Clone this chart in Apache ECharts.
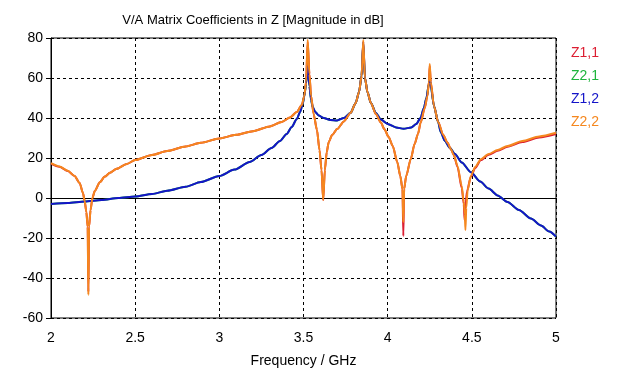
<!DOCTYPE html>
<html><head><meta charset="utf-8">
<script src="https://cdn.jsdelivr.net/npm/echarts@6/dist/echarts.min.js"></script>
<style>html,body{margin:0;padding:0;background:#fff}#c{width:630px;height:373px}</style>
</head><body><div id="c"></div>
<script>
const seriesNames = ['Z1,1', 'Z2,1', 'Z1,2', 'Z2,2'];
const xTicks = [2, 2.5, 3, 3.5, 4, 4.5, 5];
const yTicks = [-60, -40, -20, 0, 20, 40, 60, 80];

const z22 = [[2.00,17.4],[2.05,15.8],[2.10,13.6],[2.14,11],[2.17,7.5],[2.19,2.5],[2.20,-1.5],[2.21,-7],[2.218,-14.4],[2.222,-48.5],[2.226,-14.4],[2.235,-6],[2.246,0],[2.26,3.5],[2.29,7.9],[2.32,10.7],[2.35,12.6],[2.39,14.6],[2.45,17],[2.5,19],[2.6,21.5],[2.69,23.5],[2.8,25.8],[2.89,27.6],[3.0,29.8],[3.1,31.6],[3.2,33.4],[3.3,35.8],[3.37,38],[3.42,40.3],[3.46,43],[3.49,46.5],[3.505,51],[3.515,58],[3.525,79],[3.535,62],[3.545,51],[3.56,42],[3.58,34],[3.595,24],[3.607,14],[3.617,-1],[3.627,14],[3.638,23],[3.65,28],[3.67,31.5],[3.70,34.5],[3.74,38.3],[3.78,42.6],[3.81,47.5],[3.83,53],[3.845,61],[3.855,79],[3.865,60],[3.88,53],[3.90,47.6],[3.93,42],[3.96,37.7],[3.98,34.5],[4.006,30.5],[4.03,26],[4.057,18],[4.075,11],[4.088,4.5],[4.093,-12],[4.098,4.5],[4.11,11],[4.137,19.4],[4.16,27],[4.18,32],[4.196,37.7],[4.22,45],[4.236,51],[4.245,58],[4.25,67],[4.256,58],[4.275,46],[4.30,38],[4.33,31.5],[4.355,27.7],[4.375,24.5],[4.393,21.5],[4.415,16],[4.44,6],[4.452,-2],[4.458,-8],[4.462,-16],[4.467,-5],[4.475,4],[4.494,11],[4.52,15.5],[4.554,19.4],[4.6,22],[4.653,24],[4.712,26],[4.8,28.5],[4.9,30.8],[5.0,32.6]];

const z11 = [[2.00,17.2],[2.05,15.6],[2.10,13.5],[2.14,11],[2.17,7.5],[2.19,2.5],[2.20,-1.5],[2.21,-7],[2.218,-14.4],[2.222,-47],[2.226,-14.4],[2.235,-6],[2.246,0],[2.26,3.5],[2.29,7.9],[2.32,10.7],[2.35,12.6],[2.39,14.6],[2.45,17],[2.5,19],[2.6,21.5],[2.69,23.5],[2.8,25.8],[2.89,27.6],[3.0,29.8],[3.1,31.6],[3.2,33.4],[3.3,35.8],[3.37,38],[3.42,40.3],[3.46,43],[3.49,46.5],[3.505,51],[3.515,58],[3.525,78],[3.535,62],[3.545,51],[3.56,42],[3.58,34],[3.595,24],[3.607,14],[3.617,-1],[3.627,14],[3.638,23],[3.65,28],[3.67,31.5],[3.70,34.5],[3.74,38.3],[3.78,42.6],[3.81,47.5],[3.83,53],[3.845,61],[3.855,78],[3.865,60],[3.88,53],[3.90,47.6],[3.93,42],[3.96,37.7],[3.98,34.5],[4.006,30.5],[4.03,26],[4.057,18],[4.075,11],[4.088,4.5],[4.093,-19],[4.098,4.5],[4.11,11],[4.137,19.4],[4.16,27],[4.18,32],[4.196,37.7],[4.22,45],[4.236,51],[4.245,58],[4.25,66],[4.256,58],[4.275,46],[4.30,38],[4.33,31.5],[4.355,27.7],[4.375,24.5],[4.393,21.5],[4.415,15.5],[4.44,5],[4.452,-3],[4.457,-11],[4.462,-5],[4.47,3],[4.494,10.5],[4.52,15],[4.554,19],[4.6,21.6],[4.653,23.6],[4.712,25.6],[4.8,28],[4.9,30.3],[5.0,32]];

const z12 = [[2.0,-3],[2.1,-2.5],[2.2,-1.8],[2.3,-1],[2.4,0],[2.5,0.8],[2.6,2],[2.69,3.6],[2.8,5.6],[2.89,8],[3.0,11],[3.09,14.2],[3.18,18],[3.25,21.5],[3.31,25],[3.36,28.5],[3.40,32],[3.43,35.5],[3.46,39.5],[3.48,43],[3.495,47],[3.505,51],[3.515,57],[3.525,66],[3.535,56],[3.545,49],[3.555,45.5],[3.57,43],[3.59,41.3],[3.62,40],[3.66,39],[3.70,38.8],[3.74,40],[3.78,42.6],[3.81,47.5],[3.83,53],[3.845,61],[3.855,78],[3.865,60],[3.88,53],[3.90,47.6],[3.93,42.5],[3.96,39.2],[4.0,37],[4.05,35.3],[4.095,34.6],[4.14,35.3],[4.17,37],[4.195,40],[4.215,45],[4.23,50],[4.245,57],[4.25,60],[4.256,56],[4.275,46],[4.30,38],[4.315,33],[4.34,28.5],[4.37,25],[4.40,22],[4.44,17.8],[4.494,12.9],[4.55,8.2],[4.6,4.7],[4.653,1.3],[4.712,-2],[4.78,-6],[4.851,-10.3],[4.911,-13.8],[4.96,-16.8],[5.0,-19.3]];

const z21 = [[2.0,-3],[2.1,-2.5],[2.2,-1.8],[2.3,-1],[2.4,0],[2.5,0.8],[2.6,2],[2.69,3.6],[2.8,5.6],[2.89,8],[3.0,11],[3.09,14.2],[3.18,18],[3.25,21.5],[3.31,25],[3.36,28.5],[3.40,32],[3.43,35.5],[3.46,39.5],[3.48,43],[3.495,47],[3.505,51],[3.515,57],[3.525,65],[3.535,56],[3.545,49],[3.555,45.5],[3.57,43],[3.59,41.3],[3.62,40],[3.66,39],[3.70,38.8],[3.74,40],[3.78,42.6],[3.81,47.5],[3.83,53],[3.845,61],[3.855,77],[3.865,60],[3.88,53],[3.90,47.6],[3.93,42.5],[3.96,39.2],[4.0,37],[4.05,35.3],[4.095,34.6],[4.14,35.3],[4.17,37],[4.195,40],[4.215,45],[4.23,50],[4.245,57],[4.25,59],[4.256,56],[4.275,46],[4.30,38],[4.315,33],[4.34,28.5],[4.37,25],[4.40,22],[4.44,17.8],[4.494,12.9],[4.55,8.2],[4.6,4.7],[4.653,1.3],[4.712,-2],[4.78,-6],[4.851,-10.3],[4.911,-13.8],[4.96,-16.8],[5.0,-19.3]];

const colors = ['#dc1e32', '#1eb43c', '#1414c8', '#f5871e'];
const dataSets = [z11, z21, z12, z22];
const FONT = 'Liberation Sans';

const chart = echarts.init(document.getElementById('c'), null, {renderer: 'canvas'});
chart.setOption({
  animation: false,
  backgroundColor: '#fff',
  title: {
    text: 'V/A Matrix Coefficients in Z [Magnitude in dB]',
    left: 248, top: 9, textAlign: 'center',
    textStyle: {fontFamily: FONT, fontSize: 13, fontWeight: 'normal', color: '#000'}
  },
  legend: {
    orient: 'vertical', left: 566, top: 41, itemGap: 9, icon: 'none',
    itemWidth: 0, itemHeight: 13,
    data: seriesNames.map((n, i) => ({name: n, textStyle: {color: colors[i]}})),
    textStyle: {fontFamily: FONT, fontSize: 14, padding: [0, 0, 0, -5]}
  },
  grid: {left: 51, right: 74, top: 38, bottom: 53, show: true, borderColor: '#000', borderWidth: 1},
  xAxis: {
    type: 'value', min: 2, max: 5, interval: 0.5,
    name: 'Frequency / GHz', nameLocation: 'middle', nameGap: 36,
    nameTextStyle: {fontFamily: FONT, fontSize: 14, color: '#000'},
    axisLine: {lineStyle: {color: '#000'}},
    axisTick: {show: true, length: 5, lineStyle: {color: '#000'}},
    axisLabel: {fontFamily: FONT, fontSize: 14, color: '#000', margin: 13,
      formatter: v => (xTicks.includes(v) ? String(v) : '')},
    splitLine: {show: true, lineStyle: {color: '#000', type: [3, 3], width: 1}}
  },
  yAxis: {
    type: 'value', min: -60, max: 80, interval: 20,
    axisLine: {show: true, lineStyle: {color: '#000'}},
    axisTick: {show: true, length: 5, lineStyle: {color: '#000'}},
    axisLabel: {fontFamily: FONT, fontSize: 14, color: '#000', margin: 8,
      formatter: v => (yTicks.includes(v) ? String(v) : '')},
    splitLine: {show: true, lineStyle: {color: '#000', type: [3, 3], width: 1}}
  },
  series: seriesNames.map((n, i) => ({
    name: n, type: 'line', data: dataSets[i], showSymbol: false, symbol: 'none',
    smooth: 0.25, smoothMonotone: 'x', clip: true,
    lineStyle: {color: colors[i], width: 2}, itemStyle: {color: colors[i]}
  }))
});
</script></body></html>
